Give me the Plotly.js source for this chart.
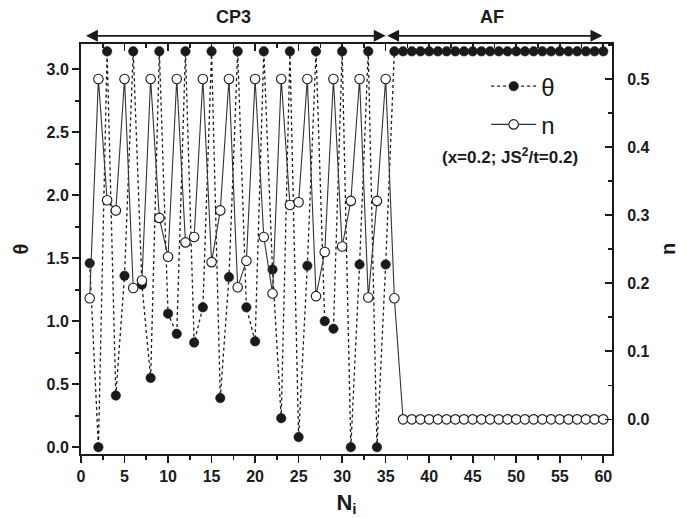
<!DOCTYPE html>
<html>
<head>
<meta charset="utf-8">
<script src="https://cdn.plot.ly/plotly-3.0.1.min.js"></script>
<style>html,body{margin:0;padding:0;background:#fff;}#chart{width:692px;height:518px;}</style>
</head>
<body>
<div id="chart"></div>
<script>
// Site index N_i
const sites = [1,2,3,4,5,6,7,8,9,10,11,12,13,14,15,16,17,18,19,20,
  21,22,23,24,25,26,27,28,29,30,31,32,33,34,35,36,37,38,39,40,
  41,42,43,44,45,46,47,48,49,50,51,52,53,54,55,56,57,58,59,60];
// theta (left axis)
const theta = [1.46,0.00,3.1416,0.41,1.36,3.1416,1.29,0.55,3.1416,1.06,
  0.90,3.1416,0.83,1.11,3.1416,0.39,1.35,3.1416,1.11,0.84,
  3.1416,1.41,0.23,3.1416,0.08,1.44,3.1416,1.00,0.94,3.1416,
  0.00,1.45,3.1416,0.00,1.45,3.1416,3.1416,3.1416,3.1416,3.1416,
  3.1416,3.1416,3.1416,3.1416,3.1416,3.1416,3.1416,3.1416,3.1416,3.1416,
  3.1416,3.1416,3.1416,3.1416,3.1416,3.1416,3.1416,3.1416,3.1416,3.1416];
// n (right axis)
const nVal = [0.178,0.500,0.322,0.307,0.500,0.193,0.204,0.500,0.296,0.239,
  0.500,0.260,0.268,0.500,0.231,0.307,0.500,0.194,0.233,0.500,
  0.268,0.185,0.500,0.315,0.319,0.500,0.181,0.246,0.500,0.254,
  0.321,0.500,0.179,0.321,0.500,0.178,0.000,0.000,0.000,0.000,
  0.000,0.000,0.000,0.000,0.000,0.000,0.000,0.000,0.000,0.000,
  0.000,0.000,0.000,0.000,0.000,0.000,0.000,0.000,0.000,0.000];
// labels
const thetaName = 'θ';
const nName = 'n';
const regionLabels = ['CP3', 'AF'];
const regionStart = [0.4, 35];
const regionEnd = [35, 59.9];
const regionCenter = [17.5, 47.2];
const noteText = '<b>(x=0.2; JS<sup>2</sup>/t=0.2)</b>';

const FONT = 'Liberation Sans, Arial, sans-serif';
const INK = '#1a1a1a';

const traces = [
  {
    x: sites, y: theta, name: thetaName, type: 'scatter', mode: 'lines+markers',
    legendgroup: 'a',
    line: {color: INK, width: 1.3, dash: 'dot'},
    marker: {symbol: 'circle', size: 9.5, color: INK, line: {color: INK, width: 0.5}},
    xaxis: 'x', yaxis: 'y'
  },
  {
    x: sites, y: nVal, name: nName, type: 'scatter', mode: 'lines+markers',
    legendgroup: 'b',
    line: {color: '#333', width: 1.1},
    marker: {symbol: 'circle', size: 9.5, color: '#fff', line: {color: INK, width: 1.1}},
    xaxis: 'x', yaxis: 'y2'
  },
  {x: [], y: [], xaxis: 'x2', yaxis: 'y', showlegend: false, hoverinfo: 'skip', type: 'scatter'}
];

const tickFont = {family: FONT, size: 16, color: INK, weight: 'bold'};

const annotations = [];
for (let k = 0; k < regionLabels.length; k++) {
  annotations.push({
    xref: 'x', yref: 'paper', x: regionCenter[k], y: 1.066,
    text: '<b>' + regionLabels[k] + '</b>', showarrow: false,
    font: {family: FONT, size: 18, color: INK}, xanchor: 'center', yanchor: 'middle'
  });
  annotations.push({
    xref: 'x', yref: 'paper', x: regionEnd[k], y: 1.02,
    axref: 'x', ayref: 'paper', ax: regionStart[k], ay: 1.02,
    text: '', showarrow: true, arrowhead: 2, startarrowhead: 2, arrowside: 'end+start',
    arrowsize: 1.4, startarrowsize: 1.4, arrowwidth: 1.7, arrowcolor: INK
  });
}
annotations.push({
  xref: 'paper', yref: 'paper', x: 0.808, y: 0.727, text: noteText, showarrow: false,
  font: {family: FONT, size: 17, color: INK}, xanchor: 'center', yanchor: 'middle'
});

const layout = {
  width: 692, height: 518,
  margin: {l: 81, r: 80, t: 44, b: 64},
  paper_bgcolor: '#fff', plot_bgcolor: '#fff',
  font: {family: FONT, color: INK},
  showlegend: true,
  legend: {x: 0.763, y: 0.951, xanchor: 'left', yanchor: 'top', bgcolor: 'rgba(0,0,0,0)',
    font: {family: FONT, size: 24, color: INK}, tracegroupgap: 4, itemwidth: 45},
  xaxis: {
    range: [0, 61], tick0: 0, dtick: 5, ticks: 'outside', ticklen: 7, tickwidth: 1.6, tickcolor: INK,
    minor: {dtick: 2.5, ticklen: 4, tickwidth: 1.6, tickcolor: INK, ticks: 'outside'},
    showline: true, linewidth: 2, linecolor: INK, showgrid: false, zeroline: false,
    tickfont: tickFont,
    title: {text: '<b>N<sub>i</sub></b>', font: {family: FONT, size: 22, color: INK}, standoff: 10}
  },
  xaxis2: {
    overlaying: 'x', side: 'top', anchor: 'y', range: [0, 61], tick0: 0, dtick: 5,
    ticks: 'inside', ticklen: 7, tickwidth: 1.6, tickcolor: INK,
    minor: {dtick: 2.5, ticklen: 4, tickwidth: 1.6, tickcolor: INK, ticks: 'inside'},
    showline: true, linewidth: 2, linecolor: INK, showgrid: false, zeroline: false,
    showticklabels: false
  },
  yaxis: {
    range: [-0.054, 3.2], tick0: 0, dtick: 0.5, tickformat: '.1f',
    ticks: 'outside', ticklen: 7, tickwidth: 1.6, tickcolor: INK,
    minor: {dtick: 0.25, ticklen: 4, tickwidth: 1.6, tickcolor: INK, ticks: 'outside'},
    showline: true, linewidth: 2, linecolor: INK, showgrid: false, zeroline: false,
    tickfont: tickFont,
    title: {text: '<b>θ</b>', font: {family: FONT, size: 20, color: INK}, standoff: 13}
  },
  yaxis2: {
    overlaying: 'y', side: 'right', anchor: 'x', range: [-0.0509, 0.5515], tick0: 0, dtick: 0.1, tickformat: '.1f',
    ticks: 'inside', ticklen: 7, tickwidth: 1.6, tickcolor: INK,
    minor: {dtick: 0.05, ticklen: 4, tickwidth: 1.6, tickcolor: INK, ticks: 'inside'},
    showline: true, linewidth: 2, linecolor: INK, showgrid: false, zeroline: false,
    tickfont: tickFont, ticklabelstandoff: 10,
    title: {text: '<b>n</b>', font: {family: FONT, size: 20, color: INK}, standoff: 12}
  },
  annotations: annotations
};

Plotly.newPlot('chart', traces, layout, {displayModeBar: false, staticPlot: true});
</script>
</body>
</html>
